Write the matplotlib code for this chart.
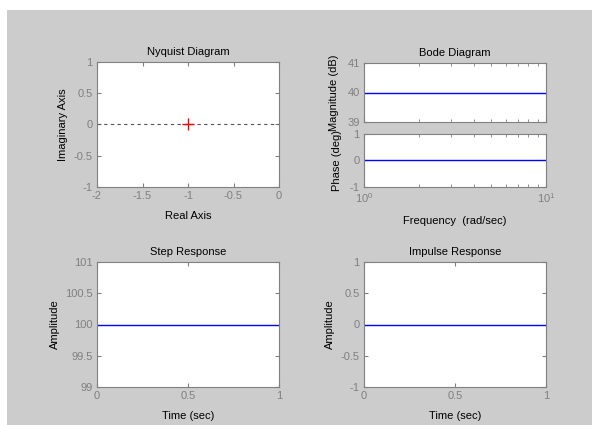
"""LTI viewer style panel: Nyquist, Bode, Step, Impulse — 593x425px"""
import numpy as np
import matplotlib
matplotlib.use("Agg")
import matplotlib.pyplot as plt
from matplotlib.patches import Rectangle

plt.rcParams["font.family"] = ["Liberation Sans", "DejaVu Sans"]
plt.rcParams["mathtext.fontset"] = "custom"
plt.rcParams["mathtext.rm"] = "Liberation Sans"

BG = "#cccccc"
TICK = "#808080"
BLUE = "#0000ff"

# ── data ─────────────────────────────────────────────────────────────────────
nyq_re = [-2, 0]
nyq_im = [0, 0]
crit_re = [-1]
crit_im = [0]

bode_w = [1, 10]
bode_mag = [40, 40]
bode_phase = [0, 0]

t_step = [0, 1]
y_step = [100, 100]
t_imp = [0, 1]
y_imp = [0, 0]

W, H = 593, 425
fig = plt.figure(figsize=(W / 100, H / 100), dpi=100)
fig.patch.set_facecolor("white")
fig.patches.append(Rectangle((7 / W, 0), (W - 8) / W, (H - 10) / H,
                             transform=fig.transFigure, facecolor=BG,
                             edgecolor="none", zorder=-10))


def box(l, t, r, b):
    return fig.add_axes([l / W, (H - b) / H, (r - l) / W, (b - t) / H])


def style(ax):
    ax.set_facecolor("white")
    for s in ax.spines.values():
        s.set_color(TICK)
        s.set_linewidth(0.8)
    ax.tick_params(which="both", direction="in", top=True, right=True,
                   colors=TICK, labelsize=8, pad=3)
    ax.tick_params(which="major", length=3)
    ax.tick_params(which="minor", length=2)


# ── Nyquist ──────────────────────────────────────────────────────────────────
ax = box(97, 62, 279, 187)
style(ax)
ax.plot(nyq_re, nyq_im, "--", color="#555555", lw=0.8, dashes=(3, 3))
ax.plot(crit_re, crit_im, "+", color="red", ms=9, mew=1)
ax.set_xlim(-2, 0)
ax.set_ylim(-1, 1)
ax.set_xticks([-2, -1.5, -1, -0.5, 0])
ax.set_xticklabels(["-2", "-1.5", "-1", "-0.5", "0"])
ax.set_yticks([-1, -0.5, 0, 0.5, 1])
ax.set_yticklabels(["-1", "-0.5", "0", "0.5", "1"])
ax.set_title("Nyquist Diagram", fontsize=8, pad=5)
ax.set_xlabel("Real Axis", fontsize=8, labelpad=7)
ax.set_ylabel("Imaginary Axis", fontsize=8, labelpad=4)

# ── Bode ─────────────────────────────────────────────────────────────────────
axm = box(364, 63, 546, 122)
style(axm)
axm.semilogx(bode_w, bode_mag, color=BLUE, lw=1)
axm.set_xlim(1, 10)
axm.set_ylim(39, 41)
axm.set_yticks([39, 40, 41])
axm.set_yticklabels(["39", "40", "41"])
axm.tick_params(which="both", labelbottom=False)
axm.set_title("Bode Diagram", fontsize=8, pad=5)
axm.set_ylabel("Magnitude (dB)", fontsize=8, labelpad=6)

axp = box(364, 134, 546, 187)
style(axp)
axp.semilogx(bode_w, bode_phase, color=BLUE, lw=1)
axp.set_xlim(1, 10)
axp.set_ylim(-1, 1)
axp.set_yticks([-1, 0, 1])
axp.set_yticklabels(["-1", "0", "1"])
axp.xaxis.set_minor_formatter(plt.NullFormatter())
axp.set_xlabel("Frequency  (rad/sec)", fontsize=8, labelpad=8)
axp.set_ylabel("Phase (deg)", fontsize=8, labelpad=6)
fig.align_ylabels([axm, axp])

# ── Step ─────────────────────────────────────────────────────────────────────
ax = box(97, 262, 279, 387)
style(ax)
ax.plot(t_step, y_step, color=BLUE, lw=1)
ax.set_xlim(0, 1)
ax.set_ylim(99, 101)
ax.set_xticks([0, 0.5, 1])
ax.set_xticklabels(["0", "0.5", "1"])
ax.set_yticks([99, 99.5, 100, 100.5, 101])
ax.set_yticklabels(["99", "99.5", "100", "100.5", "101"])
ax.set_title("Step Response", fontsize=8, pad=5)
ax.set_xlabel("Time (sec)", fontsize=8, labelpad=7)
ax.set_ylabel("Amplitude", fontsize=8, labelpad=4)

# ── Impulse ──────────────────────────────────────────────────────────────────
ax = box(364, 262, 546, 387)
style(ax)
ax.plot(t_imp, y_imp, color=BLUE, lw=1)
ax.set_xlim(0, 1)
ax.set_ylim(-1, 1)
ax.set_xticks([0, 0.5, 1])
ax.set_xticklabels(["0", "0.5", "1"])
ax.set_yticks([-1, -0.5, 0, 0.5, 1])
ax.set_yticklabels(["-1", "-0.5", "0", "0.5", "1"])
ax.set_title("Impulse Response", fontsize=8, pad=5)
ax.set_xlabel("Time (sec)", fontsize=8, labelpad=7)
ax.set_ylabel("Amplitude", fontsize=8, labelpad=4)

fig.savefig("out.png", dpi=100, facecolor="white")
plt.close(fig)
